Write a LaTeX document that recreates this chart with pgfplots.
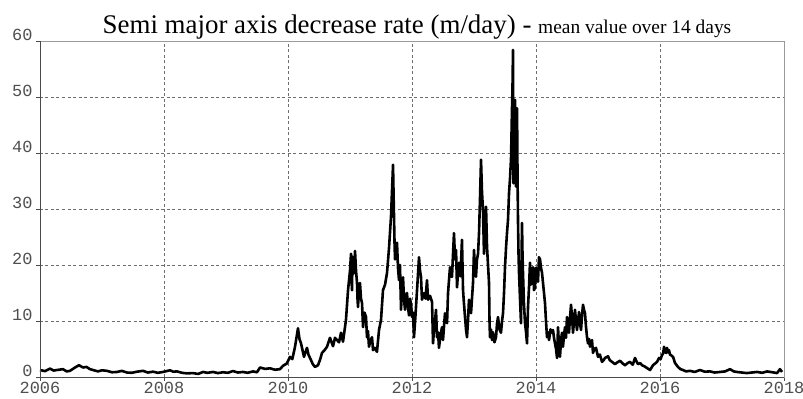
\documentclass[border=0pt]{standalone}
\usepackage{fontspec}
\setmainfont{Liberation Serif}
\newfontfamily\tickfont{Liberation Mono}
\usepackage{pgfplots}
\pgfplotsset{compat=1.18}
\usepackage{pgfplotstable}

\definecolor{axisdark}{HTML}{4A4A4A}
\definecolor{axislight}{HTML}{9A9A9A}
\definecolor{gridgray}{HTML}{6E6E6E}
\definecolor{ticktext}{HTML}{4E4E4E}

% 14-day mean of the semi major axis decrease rate (m/day)
\pgfplotstableread{
year rate
2006.000 1.25
2006.080 1.05
2006.161 1.50
2006.220 1.15
2006.274 1.25
2006.371 1.40
2006.430 1.00
2006.484 1.10
2006.565 1.70
2006.629 2.10
2006.694 1.70
2006.750 1.80
2006.806 1.40
2006.870 1.20
2006.935 1.00
2007.000 1.20
2007.081 1.10
2007.160 0.85
2007.242 0.90
2007.320 1.10
2007.403 0.80
2007.480 0.75
2007.565 0.95
2007.661 1.10
2007.740 0.80
2007.823 0.95
2007.900 0.75
2007.984 0.90
2008.097 1.20
2008.150 0.95
2008.210 1.00
2008.290 0.75
2008.371 0.65
2008.468 0.70
2008.550 0.55
2008.629 0.90
2008.700 0.75
2008.790 0.90
2008.870 0.70
2008.952 0.85
2009.030 0.75
2009.113 1.07
2009.190 0.80
2009.274 0.90
2009.350 0.75
2009.435 1.00
2009.500 0.85
2009.548 1.70
2009.630 1.45
2009.710 1.55
2009.790 1.30
2009.871 1.40
2009.919 2.00
2009.980 2.40
2010.032 3.60
2010.070 3.20
2010.113 5.40
2010.161 8.70
2010.185 6.80
2010.210 6.00
2010.258 3.60
2010.306 5.20
2010.330 4.00
2010.355 3.40
2010.400 2.30
2010.435 1.80
2010.484 2.10
2010.520 3.20
2010.548 4.30
2010.590 4.80
2010.629 5.40
2010.677 7.00
2010.726 5.50
2010.758 7.00
2010.790 6.60
2010.823 6.20
2010.855 7.90
2010.887 6.30
2010.935 10.20
2010.968 15.50
2011.000 19.00
2011.016 22.00
2011.024 17.50
2011.032 15.50
2011.040 21.50
2011.048 20.00
2011.064 18.50
2011.081 22.50
2011.097 19.00
2011.113 16.80
2011.121 14.00
2011.129 12.50
2011.145 15.80
2011.161 16.80
2011.177 14.00
2011.194 13.20
2011.210 8.90
2011.234 11.50
2011.258 10.70
2011.274 7.10
2011.290 8.20
2011.306 5.40
2011.330 6.50
2011.355 7.10
2011.371 4.80
2011.400 5.20
2011.435 4.50
2011.468 8.40
2011.500 10.20
2011.532 15.50
2011.565 16.50
2011.597 18.60
2011.629 23.00
2011.661 28.60
2011.694 37.90
2011.702 33.00
2011.710 28.60
2011.718 24.00
2011.726 21.00
2011.742 22.00
2011.758 24.00
2011.774 19.50
2011.790 17.30
2011.806 20.00
2011.823 12.00
2011.839 16.00
2011.855 17.80
2011.871 14.00
2011.887 12.00
2011.903 14.50
2011.919 15.00
2011.935 12.50
2011.952 11.00
2011.968 14.00
2011.984 13.00
2012.000 10.70
2012.016 11.50
2012.032 7.10
2012.056 11.00
2012.081 15.50
2012.113 21.40
2012.129 19.00
2012.145 17.90
2012.161 13.80
2012.194 15.00
2012.218 14.00
2012.242 17.30
2012.258 13.80
2012.290 14.50
2012.323 13.40
2012.339 6.00
2012.355 8.50
2012.371 10.00
2012.387 12.00
2012.403 7.10
2012.420 8.00
2012.435 5.20
2012.460 7.50
2012.484 8.90
2012.500 6.60
2012.532 11.40
2012.565 9.60
2012.581 15.00
2012.613 19.60
2012.629 18.00
2012.645 17.90
2012.677 25.70
2012.694 21.00
2012.710 22.70
2012.726 16.00
2012.742 18.50
2012.758 20.40
2012.782 18.00
2012.806 24.50
2012.823 15.50
2012.839 13.00
2012.855 10.70
2012.871 8.50
2012.887 7.10
2012.903 10.00
2012.919 13.80
2012.935 12.00
2012.952 11.40
2012.984 16.80
2013.000 22.70
2013.016 19.00
2013.032 17.90
2013.048 21.00
2013.065 22.00
2013.081 25.70
2013.097 32.00
2013.113 38.80
2013.129 33.00
2013.145 29.80
2013.161 22.00
2013.177 26.00
2013.194 30.40
2013.210 23.20
2013.226 20.00
2013.242 16.80
2013.250 10.00
2013.258 7.10
2013.274 8.50
2013.290 6.60
2013.306 8.00
2013.330 6.20
2013.355 7.10
2013.371 9.50
2013.387 10.70
2013.411 8.50
2013.435 7.90
2013.452 10.00
2013.468 11.40
2013.484 15.00
2013.500 19.60
2013.516 23.00
2013.532 25.70
2013.548 28.00
2013.565 32.90
2013.581 35.50
2013.597 39.00
2013.613 48.00
2013.621 52.00
2013.629 58.40
2013.633 45.00
2013.637 34.60
2013.645 42.00
2013.653 47.00
2013.661 49.50
2013.669 40.00
2013.677 34.00
2013.685 44.00
2013.694 48.00
2013.702 36.00
2013.710 27.50
2013.718 22.00
2013.726 18.60
2013.742 14.00
2013.758 9.60
2013.766 20.00
2013.774 27.50
2013.782 22.00
2013.790 18.60
2013.806 13.00
2013.823 9.60
2013.839 8.00
2013.855 6.00
2013.871 12.50
2013.887 16.00
2013.903 20.40
2013.919 16.50
2013.935 17.30
2013.952 19.60
2013.968 15.50
2013.984 16.00
2014.000 19.50
2014.016 18.60
2014.032 17.00
2014.048 21.40
2014.065 21.00
2014.081 19.50
2014.097 18.60
2014.113 16.80
2014.129 15.00
2014.145 13.20
2014.161 10.00
2014.177 7.10
2014.194 8.00
2014.210 6.60
2014.234 8.50
2014.258 7.90
2014.274 8.40
2014.290 7.00
2014.306 6.00
2014.323 5.00
2014.339 3.40
2014.355 8.90
2014.371 5.50
2014.387 3.60
2014.403 6.50
2014.419 7.90
2014.435 5.40
2014.452 7.50
2014.468 8.90
2014.484 7.00
2014.500 10.70
2014.516 9.00
2014.532 7.90
2014.548 10.50
2014.565 12.90
2014.581 10.70
2014.597 7.90
2014.613 10.00
2014.629 12.00
2014.645 10.00
2014.661 8.40
2014.677 10.00
2014.694 11.60
2014.710 9.50
2014.726 8.40
2014.742 11.00
2014.758 12.90
2014.774 12.00
2014.790 11.40
2014.806 9.00
2014.823 7.10
2014.839 6.00
2014.855 6.80
2014.871 5.40
2014.887 6.00
2014.903 6.60
2014.919 4.30
2014.940 5.00
2014.968 5.20
2015.000 3.60
2015.030 4.00
2015.065 2.70
2015.090 3.00
2015.113 3.40
2015.161 3.70
2015.190 3.00
2015.226 2.70
2015.274 2.30
2015.310 2.60
2015.355 2.90
2015.400 2.40
2015.435 2.10
2015.480 2.50
2015.516 2.70
2015.560 2.20
2015.597 3.40
2015.620 2.80
2015.645 2.30
2015.680 2.50
2015.710 2.10
2015.750 1.90
2015.790 1.60
2015.839 1.25
2015.887 2.10
2015.920 2.40
2015.952 2.70
2015.984 3.40
2016.010 3.20
2016.032 3.90
2016.050 4.20
2016.065 5.40
2016.081 4.50
2016.097 4.30
2016.113 5.20
2016.129 4.40
2016.145 4.80
2016.161 4.00
2016.177 3.90
2016.210 3.60
2016.242 2.50
2016.290 1.80
2016.330 1.40
2016.371 1.25
2016.420 1.00
2016.484 1.10
2016.560 0.90
2016.645 1.25
2016.720 0.95
2016.806 1.00
2016.880 0.80
2016.968 0.90
2017.050 1.00
2017.129 1.40
2017.190 1.00
2017.242 0.90
2017.320 0.80
2017.403 0.70
2017.480 0.80
2017.565 0.90
2017.650 0.75
2017.726 1.00
2017.810 0.85
2017.887 0.70
2017.935 1.40
2017.968 0.90
}\ratedata

\begin{document}
\begin{tikzpicture}[x=1bp,y=1bp]
\path[use as bounding box] (-40,-21) rectangle (763,377);
\begin{axis}[
  at={(0,0)}, anchor=south west,
  scale only axis, width=744bp, height=336bp,
  xmin=2006, xmax=2018, ymin=0, ymax=60,
  xtick={2006,2008,...,2018}, ytick={0,10,...,60},
  tick pos=left, tick align=outside, major tick length=4bp,
  tick style={axisdark, line width=0.8bp},
  axis line style={axislight, line width=0.9bp},
  grid=major,
  grid style={gridgray, line width=0.6bp, dash pattern=on 3bp off 2.5bp},
  /pgf/number format/assume math mode=true,
  /pgf/number format/1000 sep=,
  tick label style={font=\tickfont\fontsize{17}{17}\selectfont, text=ticktext},
  yticklabel style={yshift=6bp},
  xticklabel style={yshift=2bp},
  clip=false,
]
\addplot[black, line width=2.6bp, line join=round] table[x=year, y=rate] {\ratedata};
\draw[axisdark, line width=0.9bp] (rel axis cs:0,1) -- (rel axis cs:0,0) -- (rel axis cs:1,0);
\node[anchor=base, xshift=5bp, yshift=8bp, inner sep=0pt] at (rel axis cs:0.5,1)
  {\fontsize{27}{27}\selectfont Semi major axis decrease rate (m/day) - {\fontsize{19.5}{19.5}\selectfont mean value over 14 days}};
\end{axis}
\end{tikzpicture}
\end{document}
